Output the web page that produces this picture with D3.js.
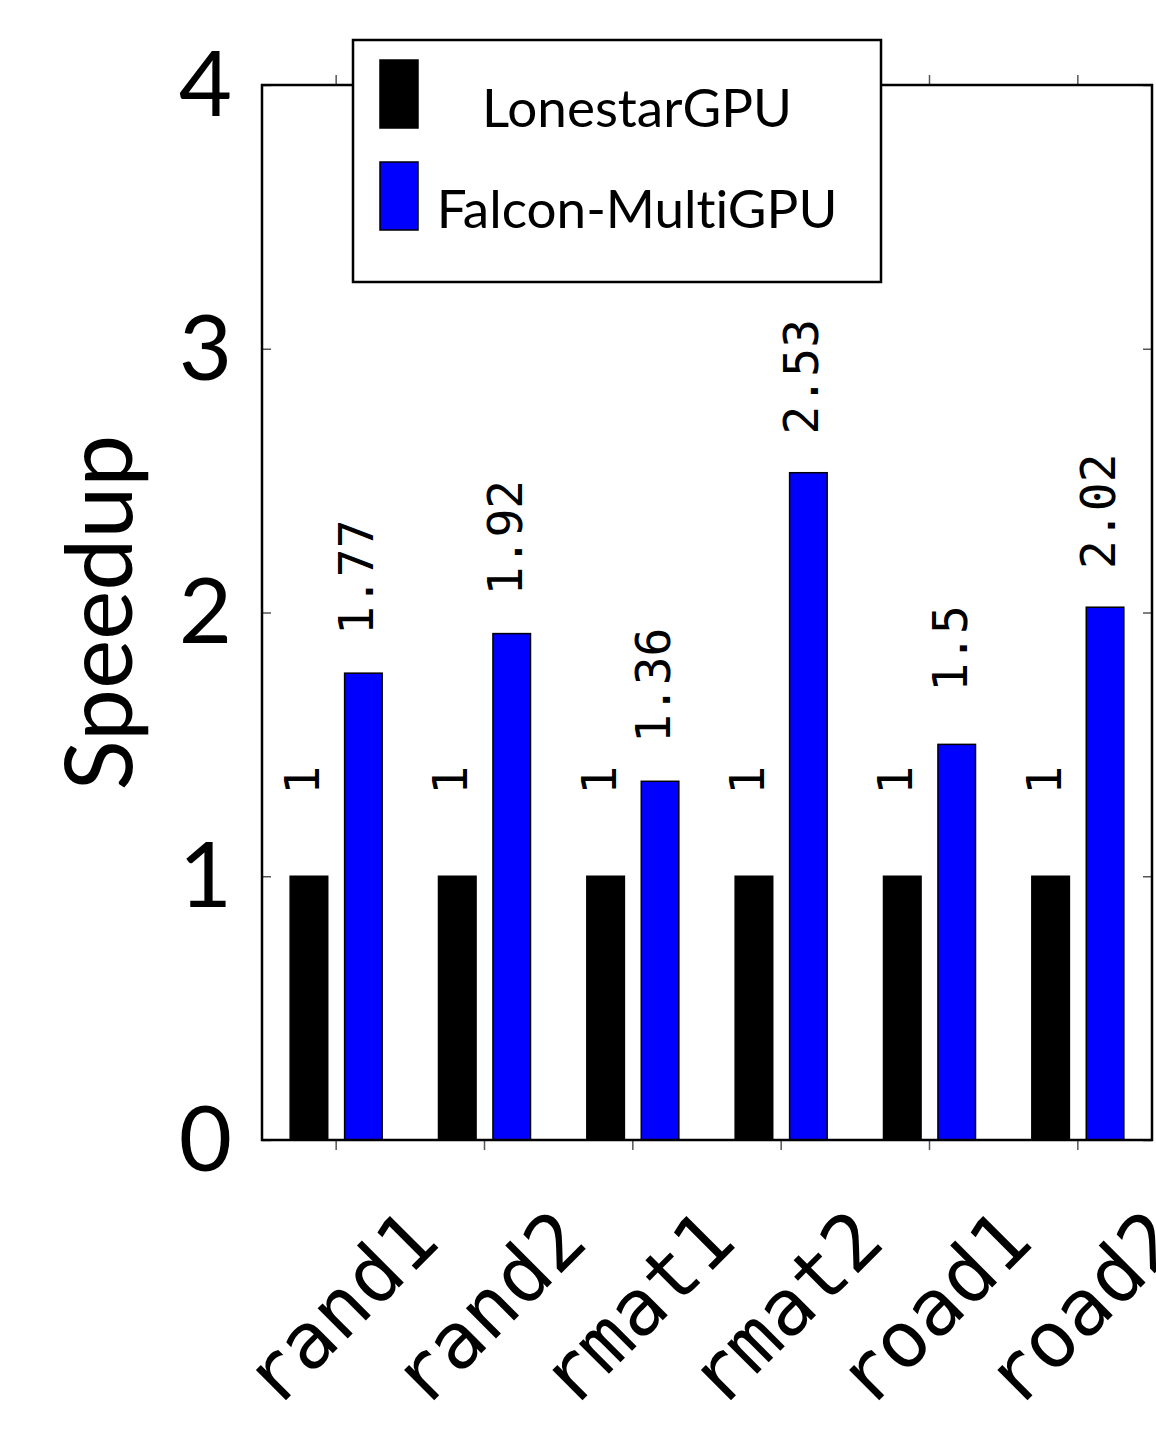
<!DOCTYPE html>
<html>
<head>
<meta charset="utf-8">
<script src="https://cdn.jsdelivr.net/npm/d3@7"></script>
<style>
  body { margin: 0; background: #fff; }
  svg { display: block; }
  text { font-variant-ligatures: none; }
</style>
</head>
<body>
<svg id="chart"></svg>
<script>
const categories = ["rand1", "rand2", "rmat1", "rmat2", "road1", "road2"];
const series = ["LonestarGPU", "Falcon-MultiGPU"];
const lonestar = [1, 1, 1, 1, 1, 1];
const falcon = [1.77, 1.92, 1.36, 2.53, 1.5, 2.02];
const yTicks = [0, 1, 2, 3, 4];
const colors = ["#000000", "#0000ff"];

const width = 1156, height = 1430;
const margin = { top: 85, right: 4, bottom: 290, left: 262 };

const svg = d3.select("#chart").attr("width", width).attr("height", height);

const x = d3.scaleBand().domain(categories)
    .range([margin.left, width - margin.right]).padding(0);
const xSub = d3.scaleBand().domain(series).range([-46, 46]).paddingInner(0.31);
const y = d3.scaleLinear().domain([0, 4]).range([height - margin.bottom, margin.top]);

const rows = categories.map((c, i) => ({
    cat: c,
    vals: [{ s: series[0], v: lonestar[i] }, { s: series[1], v: falcon[i] }]
}));

// axes
const styleAxis = g => {
    g.select(".domain").remove();
    g.selectAll(".tick line").attr("stroke", "#555").attr("stroke-width", 1.5);
};

svg.append("g")
    .attr("transform", `translate(${margin.left},0)`)
    .call(d3.axisLeft(y).tickValues(yTicks).tickSize(-9).tickPadding(30).tickFormat(d3.format("d")))
    .call(styleAxis)
    .selectAll("text")
    .attr("dy", "0.33em")
    .style("font-family", "Lato")
    .style("font-size", "92px")
    .attr("fill", "#000");

svg.append("g")
    .attr("transform", `translate(${width - margin.right},0)`)
    .call(d3.axisRight(y).tickValues(yTicks).tickSize(-9).tickFormat(""))
    .call(styleAxis);

svg.append("g")
    .attr("transform", `translate(0,${y(0)})`)
    .call(d3.axisBottom(x).tickSize(10).tickFormat(""))
    .call(styleAxis);

svg.append("g")
    .attr("transform", `translate(0,${y(4)})`)
    .call(d3.axisTop(x).tickSize(10).tickFormat(""))
    .call(styleAxis);

// bars
const groups = svg.append("g").selectAll("g")
    .data(rows)
    .join("g")
    .attr("transform", d => `translate(${x(d.cat) + x.bandwidth() / 2},0)`);

groups.selectAll("rect")
    .data(d => d.vals)
    .join("rect")
    .attr("x", d => xSub(d.s))
    .attr("width", xSub.bandwidth())
    .attr("y", d => y(d.v))
    .attr("height", d => y(0) - y(d.v))
    .attr("fill", (d, i) => colors[i])
    .attr("stroke", "#000")
    .attr("stroke-width", 1.5);

groups.selectAll("text")
    .data(d => d.vals)
    .join("text")
    .attr("transform", d => `translate(${xSub(d.s) + xSub.bandwidth() / 2 + 10},${y(d.v) - 96}) rotate(-90)`)
    .attr("text-anchor", "middle")
    .style("font-family", "DejaVu Sans Mono")
    .style("font-size", "48px")
    .text(d => d.v);

// frame
svg.append("rect")
    .attr("x", margin.left)
    .attr("y", y(4))
    .attr("width", width - margin.right - margin.left)
    .attr("height", y(0) - y(4))
    .attr("fill", "none")
    .attr("stroke", "#000")
    .attr("stroke-width", 2.5);

// category labels
svg.append("g").selectAll("text")
    .data(categories)
    .join("text")
    .attr("transform", d => `translate(${x(d) + x.bandwidth() / 2 + 106},${y(0) + 104}) rotate(-45)`)
    .attr("text-anchor", "end")
    .style("font-family", "DejaVu Sans Mono")
    .style("font-size", "78px")
    .text(d => d);

// y label
svg.append("text")
    .attr("transform", `translate(132,${(y(0) + y(4)) / 2}) rotate(-90)`)
    .attr("text-anchor", "middle")
    .style("font-family", "Lato")
    .style("font-size", "93px")
    .text("Speedup");

// legend
const legend = svg.append("g");
legend.append("rect")
    .attr("x", 353).attr("y", 40)
    .attr("width", 528).attr("height", 242)
    .attr("fill", "#fff")
    .attr("stroke", "#000")
    .attr("stroke-width", 2.5);

const legendRows = [
    { label: series[0], color: colors[0], top: 60, base: 127 },
    { label: series[1], color: colors[1], top: 162, base: 228 }
];

legend.selectAll("rect.sw")
    .data(legendRows)
    .join("rect")
    .attr("class", "sw")
    .attr("x", 380).attr("y", d => d.top)
    .attr("width", 38).attr("height", 68)
    .attr("fill", d => d.color)
    .attr("stroke", "#000")
    .attr("stroke-width", 1.5);

legend.selectAll("text")
    .data(legendRows)
    .join("text")
    .attr("x", 637).attr("y", d => d.base)
    .attr("text-anchor", "middle")
    .style("font-family", "Lato")
    .style("font-size", "53px")
    .text(d => d.label);
</script>
</body>
</html>
